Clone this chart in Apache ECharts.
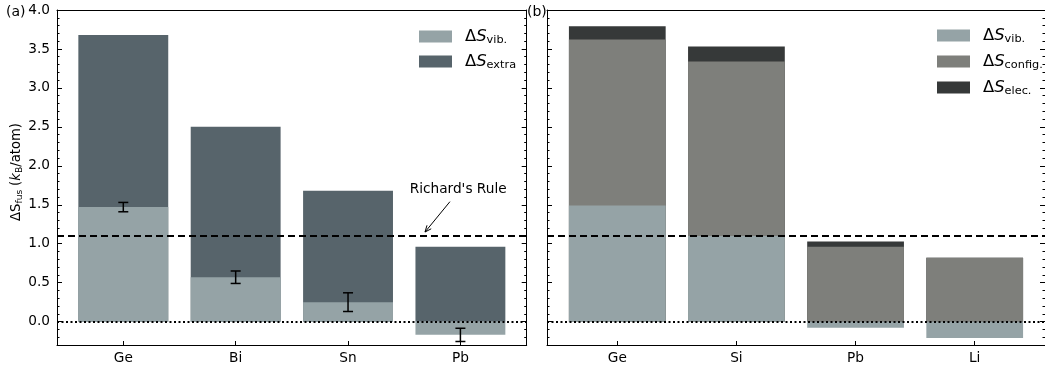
<!DOCTYPE html>
<html><head><meta charset="utf-8">
<script src="https://cdn.jsdelivr.net/npm/echarts@6/dist/echarts.min.js"></script>
<style>html,body{margin:0;padding:0;background:#fff}#c{width:1045px;height:366px}</style>
</head><body><div id="c"></div><script>
// ---- data ----
const catsA = ['Ge', 'Bi', 'Sn', 'Pb'];
const vibA = [1.47, 0.57, 0.25, -0.17];
const extraA = [2.21, 1.93, 1.43, 1.13];
const errA = [0.06, 0.08, 0.12, 0.085];

const catsB = ['Ge', 'Si', 'Pb', 'Li'];
const vibB = [1.49, 1.10, -0.08, -0.21];
const configB = [2.13, 2.24, 1.04, 1.03];
const elecB = [0.17, 0.19, 0.07, 0.0];

const richardsRule = 1.1;
const yMajor = [0, 0.5, 1.0, 1.5, 2.0, 2.5, 3.0, 3.5, 4.0];
const yMinor = [-0.2, -0.1, 0.1, 0.2, 0.3, 0.4, 0.6, 0.7, 0.8, 0.9, 1.1, 1.2, 1.3, 1.4, 1.6, 1.7, 1.8, 1.9,
  2.1, 2.2, 2.3, 2.4, 2.6, 2.7, 2.8, 2.9, 3.1, 3.2, 3.3, 3.4, 3.6, 3.7, 3.8, 3.9];
const xTicks = [0, 1, 2, 3];

// ---- style ----
const FONT = 'DejaVu Sans';
const FS = 13.7;
const C_VIB = '#95a3a6', C_EXTRA = '#57646b', C_CONFIG = '#7e7f7b', C_ELEC = '#363939';
const XMIN = -0.59, XMAX = 3.59, YMIN = -0.3, YMAX = 4.0;
const gA = { left: 57, top: 10, width: 469.7, height: 335 };
const gB = { left: 547, top: 10, width: 505.5, height: 335 };
const bwA = 0.8 * gA.width / (XMAX - XMIN);
const bwB = 0.8 * gB.width / (XMAX - XMIN);

function xAxes(g, cats) {
  return [
    { type: 'value', gridIndex: g, min: XMIN, max: XMAX, position: 'bottom',
      splitLine: { show: false },
      axisLine: { onZero: false, lineStyle: { color: '#000', width: 1 } },
      axisTick: { inside: true, length: 4, customValues: xTicks, lineStyle: { color: '#000' } },
      axisLabel: { customValues: xTicks, formatter: v => cats[Math.round(v)], color: '#000',
        fontSize: FS, fontFamily: FONT, margin: 6 } },
    { type: 'value', gridIndex: g, min: XMIN, max: XMAX, position: 'top',
      splitLine: { show: false }, axisTick: { show: false }, axisLabel: { show: false },
      axisLine: { onZero: false, lineStyle: { color: '#000', width: 1 } } }
  ];
}
function yAxes(g, showLabels) {
  const base = { type: 'value', gridIndex: g, min: YMIN, max: YMAX, splitLine: { show: false } };
  const left = Object.assign({}, base, {
    position: 'left',
    axisLine: { onZero: false, show: true, lineStyle: { color: '#000', width: 1 } },
    axisTick: { inside: true, length: 5, customValues: yMajor, lineStyle: { color: '#000' } },
    axisLabel: { show: showLabels, customValues: yMajor, formatter: v => v.toFixed(1), color: '#000',
      fontSize: FS, fontFamily: FONT, margin: 7 }
  });
  if (showLabels) {
    Object.assign(left, {
      name: '{n|ΔS}{sub|fus} {n|(}{k|k}{sub|B}{n|/atom)}', nameLocation: 'middle', nameGap: 33, nameRotate: 90,
      nameTextStyle: { color: '#000', fontFamily: FONT, padding: [0, 0, 0, 11], rich: {
        n: { fontSize: 13.2, fontFamily: FONT, color: '#000' },
        k: { fontSize: 13.2, fontFamily: FONT, fontStyle: 'italic', color: '#000' },
        sub: { fontSize: 9.2, fontFamily: FONT, color: '#000', padding: [6, 0, 0, 0] } } }
    });
  }
  const leftMinor = Object.assign({}, base, { position: 'left',
    axisLine: { onZero: false, show: false }, axisLabel: { show: false },
    axisTick: { inside: true, length: 2.5, customValues: yMinor, lineStyle: { color: '#000' } } });
  const right = Object.assign({}, base, { position: 'right',
    axisLine: { onZero: false, show: true, lineStyle: { color: '#000', width: 1 } }, axisLabel: { show: false },
    axisTick: { inside: true, length: 5, customValues: yMajor, lineStyle: { color: '#000' } } });
  const rightMinor = Object.assign({}, base, { position: 'right',
    axisLine: { onZero: false, show: false }, axisLabel: { show: false },
    axisTick: { inside: true, length: 2.5, customValues: yMinor, lineStyle: { color: '#000' } } });
  return [left, leftMinor, right, rightMinor];
}

const refLines = {
  silent: true, symbol: 'none', label: { show: false },
  data: [
    { yAxis: richardsRule, lineStyle: { color: '#000', width: 2, type: [7, 4] } },
    { yAxis: 0, lineStyle: { color: '#000', width: 2, type: [2, 2.5] } }
  ]
};

const legendRich = {
  d: { fontSize: 16.4, fontFamily: FONT, color: '#000', padding: [0, 0, 0, 8], lineHeight: 18 },
  s: { fontSize: 16.4, fontFamily: FONT, fontStyle: 'italic', color: '#000', lineHeight: 18 },
  sub: { fontSize: 11.3, fontFamily: FONT, color: '#000', padding: [8, 0, 0, 0], lineHeight: 18 }
};
const legendLabels = { vibA: 'vib.', extraA: 'extra', vibB: 'vib.', configB: 'config.', elecB: 'elec.' };

const option = {
  animation: false,
  backgroundColor: '#fff',
  grid: [Object.assign({ containLabel: false }, gA), Object.assign({ containLabel: false }, gB)],
  xAxis: [...xAxes(0, catsA), ...xAxes(1, catsB)],
  yAxis: [...yAxes(0, true), ...yAxes(1, false)],
  legend: [
    { data: ['vibA', 'extraA'], left: 414, top: 22, orient: 'vertical', itemWidth: 33, itemHeight: 12,
      itemGap: 6, icon: 'rect', selectedMode: false, formatter: n => '{d|Δ}{s|S}{sub|' + legendLabels[n] + '}',
      textStyle: { rich: legendRich } },
    { data: ['vibB', 'configB', 'elecB'], left: 932, top: 21, orient: 'vertical', itemWidth: 33, itemHeight: 12,
      itemGap: 7, icon: 'rect', selectedMode: false, formatter: n => '{d|Δ}{s|S}{sub|' + legendLabels[n] + '}',
      textStyle: { rich: legendRich } }
  ],
  graphic: [
    { type: 'text', left: 6, top: 5, style: { text: '(a)', fontSize: 14, fontFamily: FONT, fill: '#000' } },
    { type: 'text', left: 527, top: 5, style: { text: '(b)', fontSize: 14, fontFamily: FONT, fill: '#000' } }
  ],
  series: [
    { name: 'extraA', type: 'bar', xAxisIndex: 0, yAxisIndex: 0, barWidth: bwA, barGap: '-100%',
      itemStyle: { color: C_EXTRA }, data: catsA.map((c, i) => [i, vibA[i] + extraA[i]]) },
    { name: 'vibA', type: 'bar', xAxisIndex: 0, yAxisIndex: 0, barWidth: bwA, barGap: '-100%',
      itemStyle: { color: C_VIB }, data: catsA.map((c, i) => [i, vibA[i]]), markLine: refLines },
    { name: 'errA', type: 'custom', xAxisIndex: 0, yAxisIndex: 0, z: 5, silent: true,
      encode: { x: 0, y: 1 },
      data: catsA.map((c, i) => [i, vibA[i], errA[i]]),
      renderItem: (params, api) => {
        const x = api.value(0), c = api.value(1), e = api.value(2);
        const t = api.coord([x, c + e]), b = api.coord([x, c - e]);
        const hw = 5, st = { stroke: '#000', lineWidth: 1.5 };
        return { type: 'group', children: [
          { type: 'line', shape: { x1: t[0], y1: t[1], x2: b[0], y2: b[1] }, style: st },
          { type: 'line', shape: { x1: t[0] - hw, y1: t[1], x2: t[0] + hw, y2: t[1] }, style: st },
          { type: 'line', shape: { x1: b[0] - hw, y1: b[1], x2: b[0] + hw, y2: b[1] }, style: st }
        ] };
      } },
    { name: 'annot', type: 'custom', xAxisIndex: 0, yAxisIndex: 0, z: 6, silent: true,
      data: [[2.685, 1.15]],
      renderItem: (params, api) => {
        const tip = api.coord([api.value(0), api.value(1)]);
        const tail = api.coord([2.907, 1.54]);
        const txt = api.coord([2.98, 1.70]);
        const ang = Math.atan2(tail[1] - tip[1], tail[0] - tip[0]);
        const L = 7, a = 0.4;
        const p1 = [tip[0] + L * Math.cos(ang + a), tip[1] + L * Math.sin(ang + a)];
        const p2 = [tip[0] + L * Math.cos(ang - a), tip[1] + L * Math.sin(ang - a)];
        const st = { stroke: '#000', lineWidth: 1 };
        return { type: 'group', children: [
          { type: 'line', shape: { x1: tail[0], y1: tail[1], x2: tip[0], y2: tip[1] }, style: st },
          { type: 'polyline', shape: { points: [p1, tip, p2] }, style: Object.assign({ fill: null }, st) },
          { type: 'text', x: txt[0], y: txt[1], style: { text: "Richard's Rule", fontSize: FS, fontFamily: FONT,
            fill: '#000', align: 'center', verticalAlign: 'middle' } }
        ] };
      } },

    { name: 'elecB', type: 'bar', xAxisIndex: 2, yAxisIndex: 4, barWidth: bwB, barGap: '-100%',
      itemStyle: { color: C_ELEC }, data: catsB.map((c, i) => [i, vibB[i] + configB[i] + elecB[i]]) },
    { name: 'configB', type: 'bar', xAxisIndex: 2, yAxisIndex: 4, barWidth: bwB, barGap: '-100%',
      itemStyle: { color: C_CONFIG }, data: catsB.map((c, i) => [i, vibB[i] + configB[i]]) },
    { name: 'vibB', type: 'bar', xAxisIndex: 2, yAxisIndex: 4, barWidth: bwB, barGap: '-100%',
      itemStyle: { color: C_VIB }, data: catsB.map((c, i) => [i, vibB[i]]), markLine: refLines }
  ]
};
const chart = echarts.init(document.getElementById('c'));
chart.setOption(option);
</script></body></html>
